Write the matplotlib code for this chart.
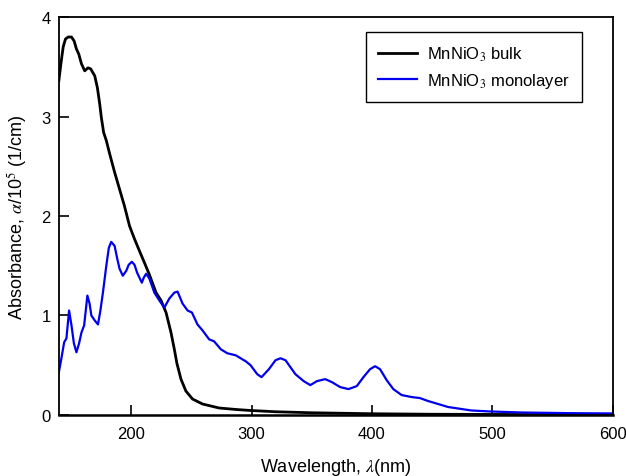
#MnNiO3 absorbance spectra: bulk vs monolayer
import matplotlib
matplotlib.use("Agg")
from matplotlib import pyplot as plt

plt.rcParams['font.family'] = ['Liberation Sans', 'DejaVu Sans']
plt.rcParams['mathtext.fontset'] = 'stix'

#Bulk spectrum
bulk_wl = [140, 141.7, 143.6, 145.5, 147.7, 150.5, 152.7, 154.6, 156.5, 158.8, 161.5, 164.2,
           166.4, 169.8, 172, 173.9, 175.3, 177.2, 179.4, 182.1, 186.3, 190.4, 194.5, 198.7,
           202.8, 206.9, 211.1, 215.2, 220.7, 224.9, 229, 233.1, 235.9, 238, 241.4, 245.5,
           251, 259.3, 273, 287, 299, 320, 350, 400, 450, 500, 550, 600]
bulk_abs = [3.36, 3.53, 3.70, 3.78, 3.80, 3.80, 3.76, 3.68, 3.63, 3.53, 3.46, 3.49,
            3.48, 3.41, 3.29, 3.13, 2.99, 2.84, 2.76, 2.63, 2.44, 2.27, 2.10, 1.90,
            1.77, 1.65, 1.53, 1.41, 1.23, 1.15, 1.03, 0.83, 0.66, 0.52, 0.36, 0.24,
            0.16, 0.11, 0.07, 0.055, 0.045, 0.032, 0.022, 0.012, 0.007, 0.005, 0.004, 0.003]

#Monolayer spectrum
mono_wl = [140, 142, 144.4, 146.3, 148.5, 150.5, 152.5, 154.6, 156.8, 158.8, 161, 163.7,
           165.5, 167, 169.8, 172.5, 174.5, 176.6, 179.4, 181.5, 183.5, 186.3, 188.5, 190.4,
           193.1, 196, 198, 200.6, 202.8, 205, 208.9, 210.5, 212.5, 215.2, 219.3, 223.5,
           227.6, 231.7, 235.9, 238.6, 242.7, 246.9, 250.5, 255.1, 259.3, 264.8, 268.9, 274.5,
           279.9, 286.8, 295.1, 299.2, 304.7, 308.3, 314.4, 319.9, 324, 328.2, 336.4, 343.3,
           348.8, 354.3, 361.2, 366.7, 373.6, 380.5, 387.4, 392.9, 398.4, 402.6, 406.7, 412.2,
           417.7, 424.6, 432.9, 439.7, 446.6, 454.9, 463.1, 471.4, 482.4, 498, 523, 564, 600]
mono_abs = [0.43, 0.56, 0.73, 0.77, 1.05, 0.90, 0.72, 0.63, 0.72, 0.83, 0.90, 1.20,
            1.12, 1.00, 0.95, 0.91, 1.05, 1.23, 1.50, 1.68, 1.74, 1.70, 1.57, 1.47,
            1.40, 1.45, 1.51, 1.54, 1.51, 1.43, 1.33, 1.38, 1.42, 1.37, 1.23, 1.15,
            1.08, 1.17, 1.23, 1.24, 1.12, 1.05, 1.03, 0.91, 0.85, 0.76, 0.74, 0.66,
            0.62, 0.60, 0.54, 0.50, 0.41, 0.38, 0.46, 0.55, 0.57, 0.55, 0.41, 0.34,
            0.30, 0.34, 0.36, 0.33, 0.28, 0.26, 0.29, 0.38, 0.46, 0.49, 0.46, 0.35,
            0.26, 0.20, 0.18, 0.17, 0.14, 0.11, 0.08, 0.065, 0.045, 0.035, 0.025, 0.018, 0.015]

fig = plt.figure(figsize=(6.26, 4.77), dpi=100)
ax = fig.add_axes([0.094, 0.128, 0.885, 0.834])

ax.plot(bulk_wl, bulk_abs, color='black', linewidth=2.0, label=r'MnNiO$_3$ bulk')
ax.plot(mono_wl, mono_abs, color='#0000ee', linewidth=1.6, label=r'MnNiO$_3$ monolayer')

ax.set_xlim(140, 600)
ax.set_ylim(0, 4)
ax.set_xticks([200, 300, 400, 500, 600])
ax.set_yticks([0, 1, 2, 3, 4])
ax.tick_params(axis='x', direction='in', length=7, width=1.2, labelsize=12, pad=8, top=False)
ax.tick_params(axis='y', direction='in', length=7, width=1.2, labelsize=12, pad=6, right=False)
for s in ax.spines.values():
    s.set_linewidth(1.3)
ax.spines['bottom'].set_linewidth(1.8)

ax.set_xlabel(r'Wavelength, $\lambda$(nm)', fontsize=13, labelpad=11)
ax.set_ylabel(r'Absorbance, $\alpha$/10$^5$ (1/cm)', fontsize=13, labelpad=9)

leg = ax.legend(loc='upper right', bbox_to_anchor=(0.944, 0.962), borderaxespad=0,
                fontsize=12, fancybox=False, edgecolor='black', framealpha=1,
                borderpad=0.75, labelspacing=0.45, handlelength=2.3, handletextpad=0.6)
leg.get_frame().set_linewidth(1.0)

plt.savefig('out.png', dpi=100)
